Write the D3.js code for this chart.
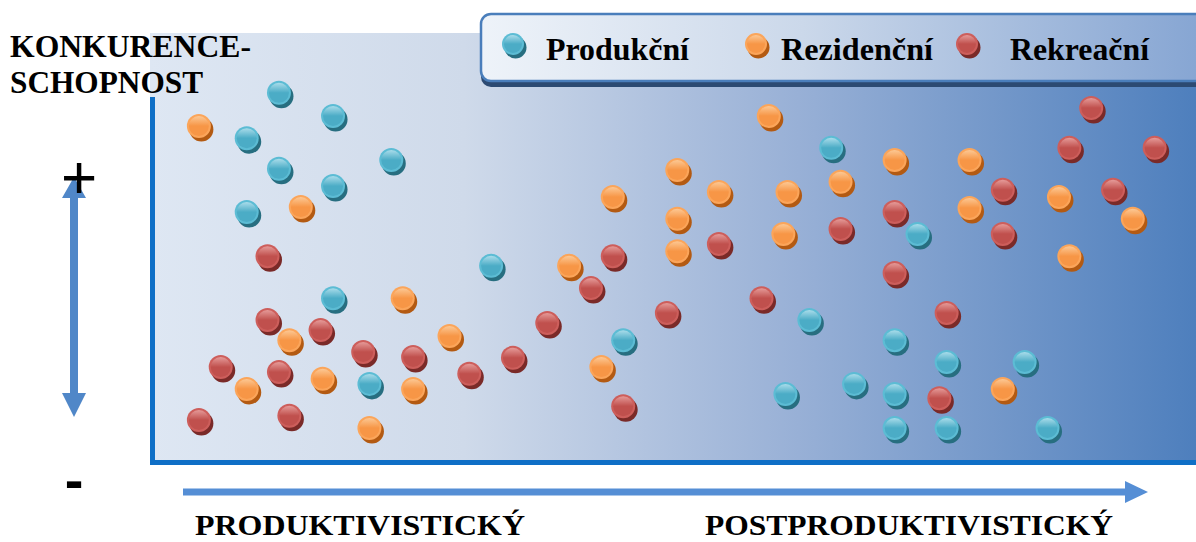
<!DOCTYPE html>
<html>
<head>
<meta charset="utf-8">
<script src="https://cdn.jsdelivr.net/npm/d3@7"></script>
<style>
  body { margin: 0; background: #fff; }
  svg { display: block; }
  text { font-family: "Liberation Serif", "Times New Roman", serif; font-weight: bold; fill: #000; }
</style>
</head>
<body>
<div id="chart"></div>
<script>
// categories + legend labels
categories = ["prod", "rez", "rek"];
legendLabels = ["Produkční", "Rezidenční", "Rekreační"];

// x = productivist (0) .. postproductivist (100), y = competitiveness 0..100
prodX = [12.4, 17.6, 9.3, 12.4, 17.6, 23.2, 9.3, 32.8, 65.5, 73.8, 17.6, 21.1, 45.5, 63.4, 61.1, 71.6, 76.6, 84.1, 67.7, 71.6, 71.6, 76.6, 86.3];
prodY = [87.9, 82.4, 77.1, 69.8, 65.7, 71.9, 59.5, 46.7, 74.8, 54.3, 39.0, 18.6, 29.0, 33.8, 16.2, 29.0, 23.8, 23.8, 18.6, 16.2, 8.1, 8.1, 8.1];

rezX = [4.7, 14.5, 59.5, 50.7, 54.7, 61.3, 66.4, 44.5, 50.7, 50.7, 60.9, 40.3, 71.6, 78.8, 87.4, 78.8, 94.5, 88.4, 24.3, 13.4, 28.8, 9.3, 16.6, 25.3, 21.1, 43.4, 82.0];
rezY = [80.0, 60.7, 82.4, 69.5, 64.3, 64.3, 66.7, 63.1, 57.9, 50.2, 54.3, 46.7, 71.9, 71.9, 63.1, 60.5, 57.9, 49.0, 39.0, 29.0, 30.0, 17.4, 19.8, 17.4, 8.1, 22.6, 17.4];

rekX = [11.3, 54.7, 66.4, 44.5, 90.5, 88.4, 96.6, 82.0, 92.6, 71.6, 82.0, 71.6, 11.3, 16.4, 20.5, 25.3, 6.8, 12.4, 30.7, 4.7, 13.4, 42.4, 38.2, 34.9, 49.7, 45.5, 58.8, 76.6, 75.9];
rekY = [49.0, 51.9, 55.5, 49.0, 84.3, 74.8, 74.8, 64.8, 64.8, 59.5, 54.3, 45.0, 33.8, 31.4, 26.2, 25.0, 22.6, 21.4, 21.0, 10.0, 11.0, 41.4, 33.1, 24.8, 35.5, 13.3, 39.0, 35.5, 15.2];

let W = 1196, H = 542;
let plot = { left: 150, top: 33, right: 1196, bottom: 462 };

let palette = {
  prod: { base: "#4bacc6", rim: "#5cbcd4", dark: "#276e80", light: "#a9dcea" },
  rez: { base: "#f79646", rim: "#fba55a", dark: "#b35a12", light: "#fcc894" },
  rek: { base: "#c0504d", rim: "#cd5e5b", dark: "#7a2a28", light: "#e59a98" }
};

let x = d3.scaleLinear().domain([0, 100]).range([150, 1190]);
let y = d3.scaleLinear().domain([0, 100]).range([462, 42]);

let svg = d3.select("#chart").append("svg")
  .attr("width", W)
  .attr("height", H);

let defs = svg.append("defs");

let bg = defs.append("linearGradient").attr("id", "bgGrad")
  .attr("x1", "0%").attr("x2", "100%").attr("y1", "0%").attr("y2", "0%");
bg.append("stop").attr("offset", "0%").attr("stop-color", "#dee7f3");
bg.append("stop").attr("offset", "30%").attr("stop-color", "#cfdaea");
bg.append("stop").attr("offset", "62%").attr("stop-color", "#98b0d6");
bg.append("stop").attr("offset", "100%").attr("stop-color", "#4e7fbd");

let lg = defs.append("linearGradient").attr("id", "legGrad")
  .attr("gradientUnits", "userSpaceOnUse")
  .attr("x1", 481).attr("x2", 1196).attr("y1", 0).attr("y2", 0);
lg.append("stop").attr("offset", "0%").attr("stop-color", "#eef3f9");
lg.append("stop").attr("offset", "45%").attr("stop-color", "#cbd8ea");
lg.append("stop").attr("offset", "100%").attr("stop-color", "#87a6d3");

// gloss gradient per category
categories.forEach(function(c) {
  let g = defs.append("linearGradient").attr("id", "gloss_" + c)
    .attr("x1", "0%").attr("x2", "0%").attr("y1", "0%").attr("y2", "100%");
  g.append("stop").attr("offset", "0%").attr("stop-color", palette[c].light);
  g.append("stop").attr("offset", "50%").attr("stop-color", palette[c].base);
  g.append("stop").attr("offset", "100%").attr("stop-color", palette[c].base);
});

let arrowBlue = "#5087c8";

// plot background
svg.append("rect")
  .attr("x", plot.left)
  .attr("y", plot.top)
  .attr("width", plot.right - plot.left)
  .attr("height", plot.bottom - plot.top)
  .attr("fill", "url(#bgGrad)");

// axis frame lines
svg.append("line")
  .attr("x1", 152.5).attr("x2", 152.5)
  .attr("y1", 97).attr("y2", 464.5)
  .attr("stroke", "#0f6fc6").attr("stroke-width", 5);
svg.append("line")
  .attr("x1", 150).attr("x2", 1196)
  .attr("y1", 462.5).attr("y2", 462.5)
  .attr("stroke", "#0f6fc6").attr("stroke-width", 5);

function drawBall(g, cx, cy, c, r) {
  g.append("circle")
    .attr("cx", cx + 2.5).attr("cy", cy + 3.5).attr("r", r)
    .attr("fill", palette[c].dark);
  g.append("circle")
    .attr("cx", cx).attr("cy", cy).attr("r", r)
    .attr("fill", palette[c].rim);
  g.append("circle")
    .attr("cx", cx).attr("cy", cy).attr("r", r - 2)
    .attr("fill", "url(#gloss_" + c + ")");
}

let series = [
  { key: "prod", xs: prodX, ys: prodY },
  { key: "rez", xs: rezX, ys: rezY },
  { key: "rek", xs: rekX, ys: rekY }
];

let balls = svg.append("g").attr("class", "balls");
series.forEach(function(s) {
  s.xs.forEach(function(v, i) {
    drawBall(balls, x(v), y(s.ys[i]), s.key, 12);
  });
});

// legend
let legend = svg.append("g").attr("class", "legend");
legend.append("rect")
  .attr("x", 481).attr("y", 19).attr("width", 760).attr("height", 68)
  .attr("rx", 10).attr("fill", "#2c4a72");
legend.append("rect")
  .attr("x", 481).attr("y", 14).attr("width", 760).attr("height", 67)
  .attr("rx", 10)
  .attr("fill", "url(#legGrad)")
  .attr("stroke", "#4a7ebb").attr("stroke-width", 2.5);

let legX = [513, 756, 967];
let legTextX = [546, 781, 1010];
let legTextW = [143, 152, 139];
categories.forEach(function(c, i) {
  drawBall(legend, legX[i], 44, c, 11);
  legend.append("text")
    .attr("x", legTextX[i]).attr("y", 60)
    .attr("font-size", 31)
    .attr("textLength", legTextW[i])
    .attr("lengthAdjust", "spacingAndGlyphs")
    .text(legendLabels[i]);
});

// y axis title
svg.append("text").attr("x", 10).attr("y", 57).attr("font-size", 32)
  .attr("textLength", 241).attr("lengthAdjust", "spacingAndGlyphs")
  .text("KONKURENCE-");
svg.append("text").attr("x", 10).attr("y", 93).attr("font-size", 32)
  .attr("textLength", 193).attr("lengthAdjust", "spacingAndGlyphs")
  .text("SCHOPNOST");

// vertical double arrow
let va = d3.path();
va.moveTo(74, 177);
va.lineTo(86, 198); va.lineTo(78, 198); va.lineTo(78, 393); va.lineTo(86, 393);
va.lineTo(74, 417);
va.lineTo(62, 393); va.lineTo(70, 393); va.lineTo(70, 198); va.lineTo(62, 198);
va.closePath();
svg.append("path").attr("d", va.toString()).attr("fill", arrowBlue);

svg.append("text").attr("x", 79).attr("y", 198)
  .attr("text-anchor", "middle")
  .style("font-family", "'Liberation Sans', Arial, sans-serif")
  .style("font-weight", "normal")
  .attr("font-size", 62).text("+");
svg.append("text").attr("x", 74).attr("y", 499)
  .attr("text-anchor", "middle")
  .style("font-family", "'Liberation Sans', Arial, sans-serif")
  .attr("font-size", 56).text("-");

// horizontal arrow
let ha = d3.path();
ha.moveTo(183, 488.5);
ha.lineTo(1125, 488.5); ha.lineTo(1125, 481); ha.lineTo(1148, 492);
ha.lineTo(1125, 503); ha.lineTo(1125, 495.5); ha.lineTo(183, 495.5);
ha.closePath();
svg.append("path").attr("d", ha.toString()).attr("fill", "#558ed5");

svg.append("text").attr("x", 195).attr("y", 535).attr("font-size", 30)
  .attr("textLength", 330).attr("lengthAdjust", "spacingAndGlyphs")
  .text("PRODUKTIVISTICKÝ");
svg.append("text").attr("x", 705).attr("y", 535).attr("font-size", 30)
  .attr("textLength", 408).attr("lengthAdjust", "spacingAndGlyphs")
  .text("POSTPRODUKTIVISTICKÝ");
</script>
</body>
</html>
